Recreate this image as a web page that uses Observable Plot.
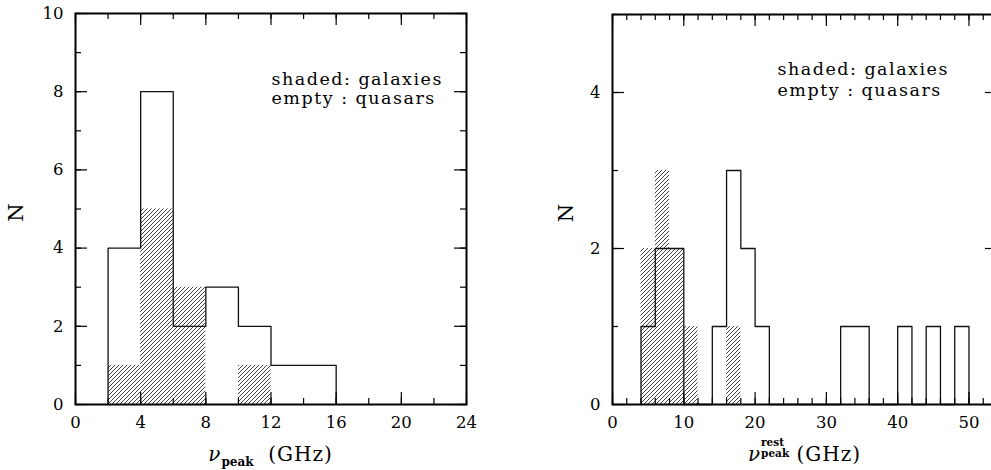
<!DOCTYPE html>
<html><head><meta charset="utf-8">
<script src="https://cdn.jsdelivr.net/npm/d3@7"></script>
<script src="https://cdn.jsdelivr.net/npm/@observablehq/plot@0.6"></script>
<style>
html,body{margin:0;padding:0;background:#fff;}
#wrap{position:relative;width:991px;height:470px;overflow:hidden;background:#fff;}
#wrap svg{position:absolute;top:0;overflow:visible;background:transparent;font-family:"DejaVu Serif",serif;}
#wrap svg text{font-family:"DejaVu Serif",serif;}
</style></head><body><div id="wrap"></div>
<script>
// ---- data ----
const binWidth = 2;
// left panel: observed peak frequency
const leftQuasarBins   = [2, 4, 6, 8, 10, 12, 14];
const leftQuasarCounts = [4, 8, 2, 3, 2, 1, 1];
const leftGalaxyBins   = [2, 4, 6, 10];
const leftGalaxyCounts = [1, 5, 3, 1];
// right panel: rest-frame peak frequency
const rightQuasarBins   = [4, 6, 8, 10, 12, 14, 16, 18, 20, 22, 24, 26, 28, 30, 32, 34, 36, 38, 40, 42, 44, 46, 48];
const rightQuasarCounts = [1, 2, 2, 0, 0, 1, 3, 2, 1, 0, 0, 0, 0, 0, 1, 1, 0, 0, 1, 0, 1, 0, 1];
const rightGalaxyBins   = [4, 6, 8, 10, 16];
const rightGalaxyCounts = [2, 3, 2, 1, 1];
// tick labels
const leftXTicks  = [0, 4, 8, 12, 16, 20, 24];
const leftYTicks  = [0, 2, 4, 6, 8, 10];
const rightXTicks = [0, 10, 20, 30, 40, 50];
const rightYTicks = [0, 2, 4];
const legendLines = ["shaded: galaxies", "empty : quasars"];
const yLabel = "N";

const FONT = "DejaVu Serif";
const MAJ = 12, MIN = 6;

function makePanel(c) {
  const plotW = c.width - c.mL - c.mR, plotH = c.height - c.mT - c.mB;
  const eps = 1e-9;
  const xMinor = d3.range(c.xDomain[0], c.xDomain[1] + eps, c.xMinorStep);
  const xMajor = d3.range(c.xDomain[0], c.xDomain[1] + eps, c.xMajorStep);
  const yMinor = d3.range(c.yDomain[0], c.yDomain[1] + eps, c.yMinorStep);
  const yMajor = d3.range(c.yDomain[0], c.yDomain[1] + eps, c.yMajorStep);
  const galaxies = c.gBins.map((b, i) => ({x1: b, x2: b + binWidth, n: c.gCounts[i]}));
  const outline = [{x: c.qBins[0], n: 0},
    ...c.qBins.map((b, i) => ({x: b, n: c.qCounts[i]})),
    {x: c.qBins[c.qBins.length - 1] + binWidth, n: 0}];
  const tick = {stroke: "#000", strokeWidth: 1.2};
  const axisText = {fontFamily: FONT, fontSize: 16.5, fill: "#000", tickFormat: d => String(d)};
  const legendText = {frameAnchor: "top-left", text: d => d, textAnchor: "start", lineAnchor: "bottom",
    fontFamily: FONT, fontSize: 17.5, fill: "#000", dx: c.legendDx};
  const svg = Plot.plot({
    width: c.width, height: c.height,
    marginLeft: c.mL, marginRight: c.mR, marginTop: c.mT, marginBottom: c.mB,
    x: {domain: c.xDomain},
    y: {domain: c.yDomain},
    style: {fontFamily: FONT, fontSize: "16.5px", color: "#000", background: "transparent"},
    marks: [
      Plot.rectY(galaxies, {x1: "x1", x2: "x2", y: "n", fill: "url(#hatch)"}),
      Plot.line(outline, {x: "x", y: "n", curve: "step-after", stroke: "#111", strokeWidth: 1.3}),
      Plot.ruleX(xMinor, {x: d => d, insetTop: plotH - MIN, ...tick}),
      Plot.ruleX(xMinor, {x: d => d, insetBottom: plotH - MIN, ...tick}),
      Plot.ruleX(xMajor, {x: d => d, insetTop: plotH - MAJ, ...tick}),
      Plot.ruleX(xMajor, {x: d => d, insetBottom: plotH - MAJ, ...tick}),
      Plot.ruleY(yMinor, {y: d => d, insetRight: plotW - MIN, ...tick}),
      Plot.ruleY(yMinor, {y: d => d, insetLeft: plotW - MIN, ...tick}),
      Plot.ruleY(yMajor, {y: d => d, insetRight: plotW - MAJ, ...tick}),
      Plot.ruleY(yMajor, {y: d => d, insetLeft: plotW - MAJ, ...tick}),
      Plot.frame({stroke: "#000", strokeWidth: 2}),
      Plot.axisX(c.xTicks, {tickSize: 0, tickPadding: 12, label: null, ...axisText}),
      Plot.axisY(c.yTicks, {tickSize: 0, tickPadding: 12, label: null, ...axisText}),
      Plot.text([legendLines[0]], {...legendText, dy: c.legendDy}),
      Plot.text([legendLines[1]], {...legendText, dy: c.legendDy + c.legendGap})
    ]
  });
  const s = d3.select(svg);
  const defs = s.insert("defs", ":first-child");
  const h = 4;
  defs.append("pattern").attr("id", "hatch").attr("patternUnits", "userSpaceOnUse")
    .attr("width", h).attr("height", h)
    .append("path")
    .attr("d", `M${-h/4},${h/4}L${h/4},${-h/4}M0,${h}L${h},0M${3*h/4},${5*h/4}L${5*h/4},${3*h/4}`)
    .attr("stroke", "#111").attr("stroke-width", 0.8).attr("fill", "none");
  s.selectAll('g[aria-label="text"] text').style("letter-spacing", "1.5px");
  s.selectAll("g[aria-label$='tick label']").attr("font-family", FONT);
  return {svg, c};
}

const wrap = document.getElementById("wrap");

const left = makePanel({
  width: 480, height: 470, mL: 75, mR: 14, mT: 13, mB: 66,
  xDomain: [0, 24], yDomain: [0, 10], xMinorStep: 2, xMajorStep: 4, yMinorStep: 1, yMajorStep: 2,
  xTicks: leftXTicks, yTicks: leftYTicks,
  qBins: leftQuasarBins, qCounts: leftQuasarCounts, gBins: leftGalaxyBins, gCounts: leftGalaxyCounts,
  legendDx: 196, legendDy: 71, legendGap: 19.5
});
left.svg.style.left = "0px";
wrap.appendChild(left.svg);

const right = makePanel({
  width: 480, height: 470, mL: 92, mR: 3, mT: 14, mB: 66,
  xDomain: [0, 54], yDomain: [0, 5], xMinorStep: 2, xMajorStep: 10, yMinorStep: 1, yMajorStep: 2,
  xTicks: rightXTicks, yTicks: rightYTicks,
  qBins: rightQuasarBins, qCounts: rightQuasarCounts, gBins: rightGalaxyBins, gCounts: rightGalaxyCounts,
  legendDx: 165, legendDy: 60, legendGap: 21
});
right.svg.style.left = "520px";
wrap.appendChild(right.svg);

// axis titles (with sub/superscripts) and the rotated N
function addN(p, nx) {
  const c = p.c;
  const cy = (c.mT + c.height - c.mB) / 2 + 4;
  d3.select(p.svg).append("text")
    .attr("transform", `translate(${nx},${cy}) rotate(-90)`)
    .attr("text-anchor", "middle").attr("dy", "0.36em")
    .attr("font-family", FONT).attr("font-size", 21).attr("fill", "#000")
    .text(yLabel);
}
addN(left, 15);
addN(right, 45);

// left: nu_peak (GHz)
{
  const c = left.c;
  const cx = (c.mL + c.width - c.mR) / 2;
  const t = d3.select(left.svg).append("text")
    .attr("x", cx).attr("y", 461).attr("text-anchor", "middle")
    .attr("font-family", FONT).attr("font-size", 20).attr("fill", "#000");
  t.append("tspan").attr("font-style", "italic").text("\u03BD");
  t.append("tspan").attr("font-size", 12).attr("font-weight", "bold").attr("dy", 5).attr("dx", 1).text("peak");
  t.append("tspan").attr("dy", -5).attr("letter-spacing", "1px").text("\u00A0\u00A0(GHz)");
}
// right: nu^rest_peak (GHz)
{
  const c = right.c;
  const cx = (c.mL + c.width - c.mR) / 2;
  const t = d3.select(right.svg).append("text")
    .attr("x", 0).attr("y", 461).attr("text-anchor", "start")
    .attr("font-family", FONT).attr("font-size", 20).attr("fill", "#000");
  t.append("tspan").attr("font-style", "italic").text("\u03BD");
  const rest = t.append("tspan").attr("font-size", 10.5).attr("font-weight", "bold").attr("dy", -15).attr("dx", 1).text("rest");
  const restW = rest.node().getComputedTextLength();
  t.append("tspan").attr("font-size", 10.5).attr("font-weight", "bold").attr("dy", 11).attr("dx", -restW).text("peak");
  t.append("tspan").attr("dy", 4).attr("letter-spacing", "1px").text("\u00A0(GHz)");
  const w = t.node().getBBox().width;
  t.attr("x", cx - w / 2);
}
</script></body></html>
